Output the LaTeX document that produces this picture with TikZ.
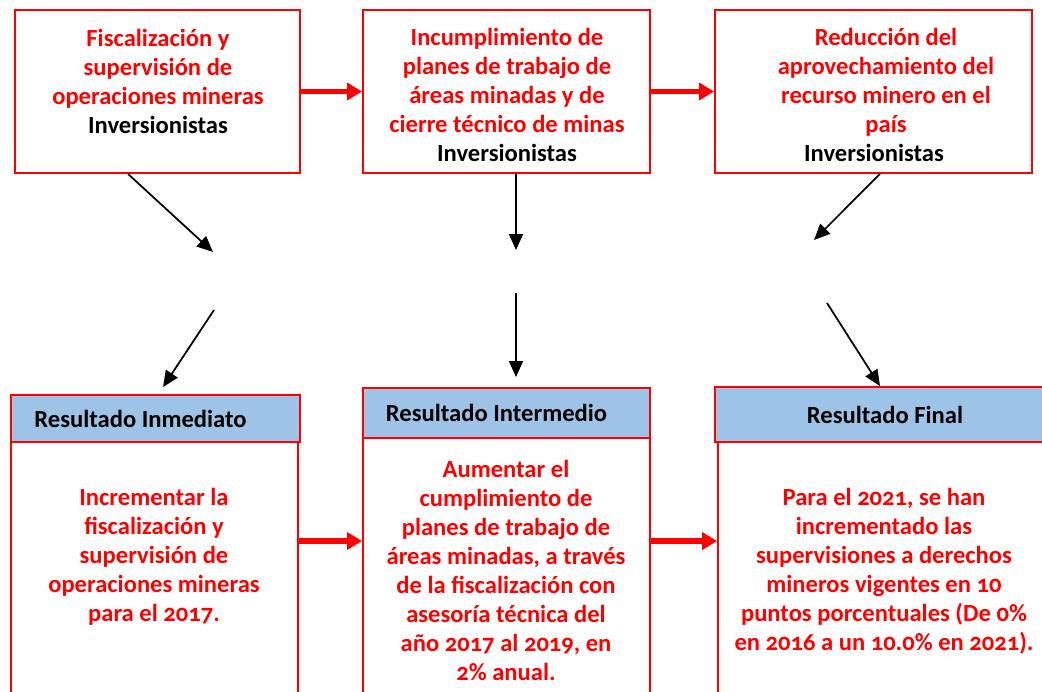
\documentclass[tikz,border=0pt]{standalone}
\usepackage{fontspec}
\setmainfont{Carlito}[Numbers=OldStyle]
\usetikzlibrary{arrows.meta}
\definecolor{rojo}{RGB}{255,0,0}
\definecolor{celeste}{RGB}{157,195,230}
\tikzset{
  boxframe/.style={draw=rojo, line width=1.1pt, inner sep=0pt},
  hdrbox/.style={draw=rojo, line width=1.1pt, fill=celeste, inner sep=0pt,
    font=\fontsize{14}{16.5}\selectfont\bfseries, text=black},
  txt/.style={align=center, text=rojo, inner sep=0pt,
    font=\fontsize{14}{16.5}\selectfont\bfseries},
  redarrow/.style={draw=rojo, line width=3.4pt,
    -{Triangle[length=0.3cm, width=0.34cm]}},
  blackarrow/.style={draw=black, line width=1pt,
    -{Triangle[length=0.32cm, width=0.28cm]}}
}
\begin{document}
\begin{tikzpicture}[x=0.02cm, y=-0.02cm]
\useasboundingbox (0,0) rectangle (1042,691);
\clip (0,0) rectangle (1042,691);

% top boxes
\node[boxframe, minimum width=5.7cm, minimum height=3.26cm] (t1) at (157.5,91.5) {};
\node[boxframe, minimum width=5.74cm, minimum height=3.26cm] (t2) at (506.5,91.5) {};
\node[boxframe, minimum width=6.34cm, minimum height=3.26cm] (t3) at (873.5,91.5) {};

\node[txt] (tt1) at (158,81) {Fiscalización y\\supervisión de\\operaciones mineras\\\textcolor{black}{Inversionistas}};
\node[txt] (tt2) at (507,95) {Incumplimiento de\\planes de trabajo de\\áreas minadas y de\\cierre técnico de minas\\\textcolor{black}{Inversionistas}};
\node[txt] (tt3) at (886,95) {Reducción del\\aprovechamiento del\\recurso minero en el\\país\\\textcolor{black}{Inversionistas}\hspace*{0.48cm}};

% bottom bodies
\node[boxframe, minimum width=5.74cm, minimum height=5.56cm] (b1) at (154.5,581) {};
\node[boxframe, minimum width=5.74cm, minimum height=5.64cm] (b2) at (506.5,579) {};
\node[boxframe, minimum width=6.54cm, minimum height=5.56cm] (b3) at (881.5,581) {};

% headers
\node[hdrbox, minimum width=5.78cm, minimum height=0.94cm] (h1) at (155.5,418.5) {\hspace*{-0.6cm}Resultado Inmediato};
\node[hdrbox, minimum width=5.74cm, minimum height=1.0cm] (h2) at (506.5,413) {\hspace*{-0.4cm}Resultado Intermedio};
\node[hdrbox, minimum width=6.6cm, minimum height=1.1cm] (h3) at (880,414.5) {Resultado Final\hspace*{-0.2cm}};

\node[txt] (bt1) at (154,557) {Incrementar la\\fiscalización y\\supervisión de\\operaciones mineras\\para el 2017.};
\node[txt] (bt2) at (506,570) {Aumentar el\\cumplimiento de\\planes de trabajo de\\áreas minadas, a través\\de la fiscalización con\\asesoría técnica del\\año 2017 al 2019, en\\2\% anual.};
\node[txt] (bt3) at (884,571) {Para el 2021, se han\\incrementado las\\supervisiones a derechos\\mineros vigentes en 10\\puntos porcentuales (De 0\%\\en 2016 a un 10.0\% en 2021).};

% free ends of the black arrows
\coordinate (a1) at (213,252);
\coordinate (a2) at (214,310);
\coordinate (c1) at (516,250);
\coordinate (c2) at (516,293);
\coordinate (e1) at (814,240);
\coordinate (e2) at (827,303);
\coordinate (rr) at (0,541);

% red arrows
\draw[redarrow] (t1.east) -- (t2.west);
\draw[redarrow] (t2.east) -- (t3.west);
\draw[redarrow] (b1.east |- rr) -- (b2.west |- rr);
\draw[redarrow] (b2.east |- rr) -- (b3.west |- rr);

% black arrows
\draw[blackarrow] ([xshift=2.28cm]t1.south west) -- (a1);
\draw[blackarrow] (a2) -- ([xshift=3.06cm, yshift=0.14cm]h1.north west);
\draw[blackarrow] ([xshift=0.19cm]t2.south) -- (c1);
\draw[blackarrow] (c2) -- ([xshift=0.19cm, yshift=0.2cm]h2.north);
\draw[blackarrow] ([xshift=0.13cm]t3.south) -- (e1);
\draw[blackarrow] (e2) -- (h3.north);
\end{tikzpicture}
\end{document}
